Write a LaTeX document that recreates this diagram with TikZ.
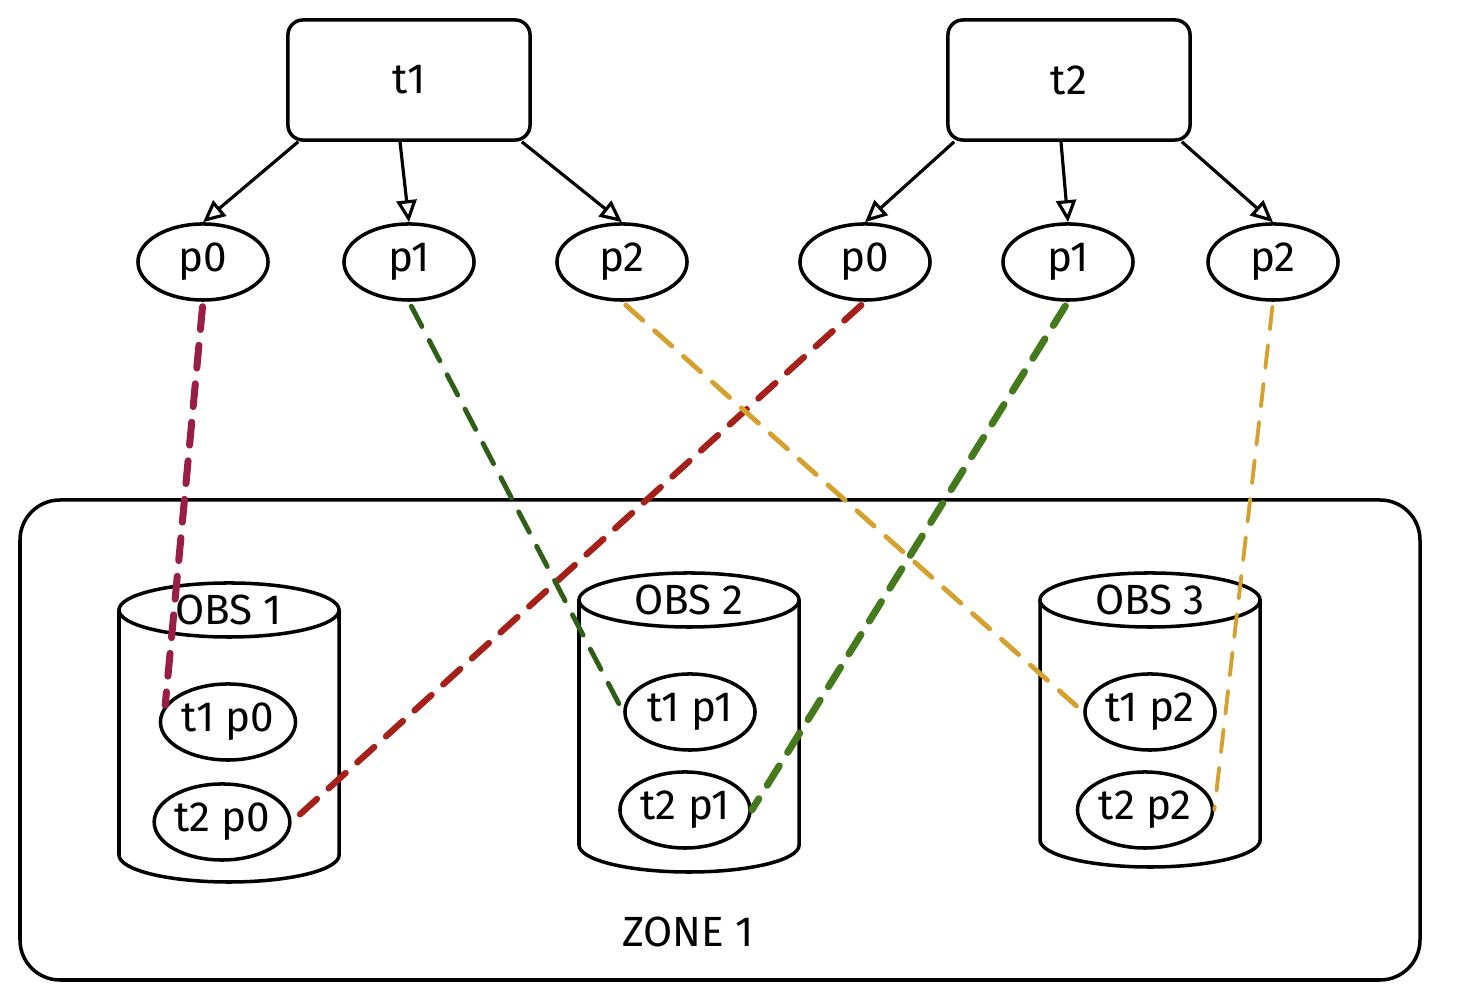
\documentclass[tikz,border=0pt]{standalone}
\usepackage{fontspec}
\setmainfont{Fira Sans}
\usetikzlibrary{shapes.geometric,arrows.meta,positioning}

\definecolor{linkmaroon}{HTML}{991E45}
\definecolor{linkred}{HTML}{A52019}
\definecolor{linkdkgreen}{HTML}{2F5F17}
\definecolor{linkgreen}{HTML}{457A1C}
\definecolor{linkgold}{HTML}{D4A12F}

\tikzset{
  sketch/.style={draw, line width=1pt},
  topicbox/.style={sketch, rectangle, rounded corners=0.15cm, minimum width=2.42cm, minimum height=1.2cm},
  part/.style={sketch, ellipse, minimum width=1.3cm, minimum height=0.76cm, inner sep=0pt},
  arr/.style={line width=0.9pt, -{Triangle[open, length=2.2mm, width=2mm]}},
  link/.style={dash pattern=on 6.5pt off 4.5pt, line cap=round, shorten <=0.05cm},
}

\begin{document}
\begin{tikzpicture}[x=0.01cm, y=-0.01cm, font=\fontsize{12}{14}\selectfont]
  \useasboundingbox (0,0) rectangle (1460,998);

  % zone
  \draw[sketch, rounded corners=0.4cm] (20,500) rectangle (1420,980);
  \node (zone) at (688,932) {ZONE 1};

  % topics
  \node[topicbox] (t1) at (409,80) {t1};
  \node[topicbox] (t2) at (1069,80) {t2};

  % partitions
  \node[part] (pa0) at (203,262) {p0};
  \node[part] (pa1) at (409,262) {p1};
  \node[part] (pa2) at (622,262) {p2};
  \node[part] (pb0) at (865,262) {p0};
  \node[part] (pb1) at (1068,262) {p1};
  \node[part] (pb2) at (1273,262) {p2};

  \draw[arr] ([xshift=0.12cm]t1.south west) -- (pa0.north);
  \draw[arr] ([xshift=-0.09cm]t1.south) -- (pa1.north);
  \draw[arr] ([xshift=-0.1cm]t1.south east) -- (pa2.north);
  \draw[arr] ([xshift=0.08cm]t2.south west) -- (pb0.north);
  \draw[arr] ([xshift=-0.08cm]t2.south) -- (pb1.north);
  \draw[arr] ([xshift=-0.1cm]t2.south east) -- (pb2.north);

  % obs buckets
  \foreach \cx/\ty/\by/\n in {229/610/855/1, 689/600/845/2, 1150/600/840/3}{
    \draw[sketch] (\cx-110,\ty) -- (\cx-110,\by)
      arc[start angle=180, end angle=360, x radius=1.1cm, y radius=0.27cm]
      -- (\cx+110,\ty);
    \draw[sketch, fill=white] (\cx,\ty) ellipse [x radius=1.1cm, y radius=0.27cm];
    \node (obs\n) at (\cx,\ty) {OBS \n};
  }

  \node[part, minimum width=1.35cm] (s1a) at (228,722) {t1 p0};
  \node[part, minimum width=1.35cm] (s1b) at (222,822) {t2 p0};
  \node[part] (s2a) at (690,712) {t1 p1};
  \node[part] (s2b) at (685,810) {t2 p1};
  \node[part] (s3a) at (1150,712) {t1 p2};
  \node[part, minimum width=1.35cm] (s3b) at (1145,810) {t2 p2};

  % replicas
  \draw[link, linkmaroon, line width=2pt] (pa0.south) -- (s1a.165);
  \draw[link, linkred, line width=1.8pt] (pb0.south) -- (s1b.east);
  \draw[link, linkdkgreen, line width=1.4pt] (pa1.south) -- (s2a.west);
  \draw[link, linkgreen, line width=2pt] (pb1.south) -- (s2b.east);
  \draw[link, linkgold, line width=1.4pt] (pa2.south) -- (s3a.west);
  \draw[link, linkgold, line width=1.1pt] (pb2.south) -- (s3b.east);
\end{tikzpicture}
\end{document}
